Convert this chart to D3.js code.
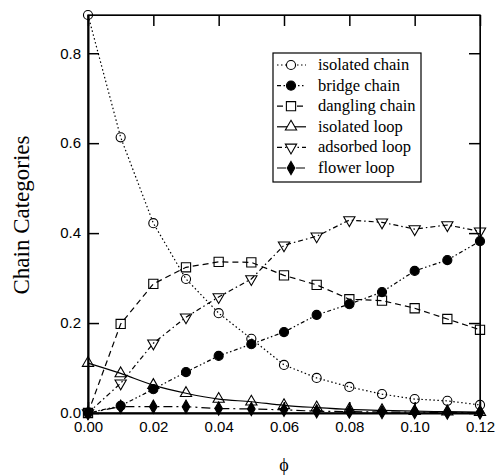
<!DOCTYPE html>
<html>
<head>
<meta charset="utf-8">
<script src="https://cdn.jsdelivr.net/npm/d3@7"></script>
<style>
  body { margin: 0; background: #fff; }
  svg { display: block; }
</style>
</head>
<body>
<svg id="chart" width="498" height="476"></svg>
<script>
// data
var phi = [0.00, 0.01, 0.02, 0.03, 0.04, 0.05, 0.06, 0.07, 0.08, 0.09, 0.10, 0.11, 0.12];
var isolatedChain = [0.885, 0.613, 0.422, 0.298, 0.222, 0.165, 0.107, 0.078, 0.058, 0.042, 0.031, 0.027, 0.018];
var bridgeChain   = [0.0, 0.016, 0.053, 0.091, 0.127, 0.153, 0.180, 0.218, 0.242, 0.269, 0.316, 0.340, 0.382];
var danglingChain = [0.0, 0.198, 0.287, 0.324, 0.336, 0.335, 0.306, 0.285, 0.253, 0.250, 0.233, 0.209, 0.185];
var isolatedLoop  = [0.111, 0.088, 0.062, 0.044, 0.031, 0.025, 0.017, 0.012, 0.008, 0.006, 0.004, 0.003, 0.002];
var adsorbedLoop  = [0.0, 0.066, 0.155, 0.213, 0.258, 0.298, 0.373, 0.393, 0.429, 0.424, 0.409, 0.418, 0.404];
var flowerLoop    = [0.0, 0.014, 0.014, 0.014, 0.010, 0.009, 0.007, 0.004, 0.003, 0.002, 0.002, 0.001, 0.001];

var xTicks = [0, 0.02, 0.04, 0.06, 0.08, 0.10, 0.12];
var yTicks = [0, 0.2, 0.4, 0.6, 0.8];

var series = [
  { name: "isolated chain", values: isolatedChain, dash: "1.5,2.5", sym: "circle", fill: false },
  { name: "bridge chain",   values: bridgeChain,   dash: "4,2.5,1.5,2.5,1.5,2.5", sym: "circle", fill: true },
  { name: "dangling chain", values: danglingChain, dash: "6,4", sym: "square", fill: false },
  { name: "isolated loop",  values: isolatedLoop,  dash: null, sym: "up", fill: false },
  { name: "adsorbed loop",  values: adsorbedLoop,  dash: "5,3,1.5,3", sym: "down", fill: false },
  { name: "flower loop",    values: flowerLoop,    dash: "9,4,2,4", sym: "diamond", fill: true }
];

var svg = d3.select("#chart");
var mLeft = 88, mRight = 480, mTop = 15, mBottom = 413;

var x = d3.scaleLinear().domain([0, 0.12]).range([mLeft, mRight]);
var y = d3.scaleLinear().domain([0, 0.885]).range([mBottom, mTop]);

// frame
svg.append("rect")
  .attr("x", mLeft).attr("y", mTop)
  .attr("width", mRight - mLeft).attr("height", mBottom - mTop)
  .attr("fill", "none").attr("stroke", "#000").attr("stroke-width", 1.3);

// axes, ticks inward
var tickLen = 11;
svg.append("g")
  .attr("transform", "translate(0," + mBottom + ")")
  .call(d3.axisBottom(x).tickValues(xTicks).tickSizeInner(-tickLen).tickSizeOuter(0)
    .tickPadding(8).tickFormat(d3.format(".2f")))
  .call(function(g) {
    g.select(".domain").attr("stroke-width", 2);
    g.selectAll("text").attr("font-family", "Liberation Sans, Arial, sans-serif")
      .attr("font-size", 15).attr("fill", "#000");
  });

svg.append("g")
  .attr("transform", "translate(" + mLeft + ",0)")
  .call(d3.axisLeft(y).tickValues(yTicks).tickSizeInner(-tickLen).tickSizeOuter(0)
    .tickPadding(7).tickFormat(d3.format(".1f")))
  .call(function(g) {
    g.select(".domain").attr("stroke-width", 2);
    g.selectAll("text").attr("font-family", "Liberation Sans, Arial, sans-serif")
      .attr("font-size", 15).attr("fill", "#000");
  });

svg.append("g")
  .attr("transform", "translate(0," + mTop + ")")
  .call(d3.axisTop(x).tickValues(xTicks).tickSizeInner(-tickLen).tickSizeOuter(0).tickFormat(""));

svg.append("g")
  .attr("transform", "translate(" + mRight + ",0)")
  .call(d3.axisRight(y).tickValues(yTicks).tickSizeInner(-tickLen).tickSizeOuter(0).tickFormat(""));

svg.selectAll(".tick line").attr("stroke-width", 1.5);

// axis titles
svg.append("text")
  .attr("transform", "translate(29,215) rotate(-90)")
  .attr("text-anchor", "middle")
  .attr("font-family", "Liberation Serif, Times New Roman, serif")
  .attr("font-size", 23)
  .text("Chain Categories");

svg.append("text")
  .attr("x", 284).attr("y", 471)
  .attr("text-anchor", "middle")
  .attr("font-family", "Liberation Serif, Times New Roman, serif")
  .attr("font-size", 18)
  .text("\u03D5");

// markers
function symbolPath(sym) {
  var t = d3.symbolCircle, s = 65;
  if (sym === "square") { t = d3.symbolSquare; s = 85; }
  if (sym === "up" || sym === "down") { t = d3.symbolTriangle; s = 55; }
  if (sym === "diamond") { t = d3.symbolDiamond; s = 50; }
  return d3.symbol().type(t).size(s)();
}

var line = d3.line()
  .x(function(d, i) { return x(phi[i]); })
  .y(function(d) { return y(d); });

var plot = svg.append("g");

series.forEach(function(s) {
  plot.append("path")
    .attr("d", (s.sym === "up" ? line.curve(d3.curveMonotoneX) : line.curve(d3.curveLinear))(s.values))
    .attr("fill", "none")
    .attr("stroke", "#000")
    .attr("stroke-width", 1.2)
    .attr("stroke-dasharray", s.dash);
});

series.forEach(function(s) {
  var rot = s.sym === "down" ? " rotate(180)" : "";
  plot.append("g")
    .selectAll("path")
    .data(s.values)
    .enter()
    .append("path")
      .attr("d", symbolPath(s.sym))
      .attr("transform", function(d, i) { return "translate(" + x(phi[i]) + "," + y(d) + ")" + rot; })
      .attr("fill", s.fill ? "#000" : "none")
      .attr("stroke", "#000")
      .attr("stroke-width", 1.1);
});

// legend
var lg = svg.append("g").attr("transform", "translate(273,53)");
lg.append("rect")
  .attr("width", 148).attr("height", 129)
  .attr("fill", "#fff").attr("stroke", "#000").attr("stroke-width", 1.2);

series.forEach(function(s, i) {
  var yy = 12 + i * 20.6;
  lg.append("line")
    .attr("x1", 4).attr("x2", 33).attr("y1", yy).attr("y2", yy)
    .attr("stroke", "#000").attr("stroke-width", 1.2)
    .attr("stroke-dasharray", s.dash);
  lg.append("path")
    .attr("d", symbolPath(s.sym))
    .attr("transform", "translate(18," + yy + ")" + (s.sym === "down" ? " rotate(180)" : ""))
    .attr("fill", s.fill ? "#000" : "#fff")
    .attr("stroke", "#000").attr("stroke-width", 1.1);
  lg.append("text")
    .attr("x", 45).attr("y", yy + 5)
    .attr("font-family", "Liberation Serif, Times New Roman, serif")
    .attr("font-size", 16.5)
    .text(s.name);
});
</script>
</body>
</html>
